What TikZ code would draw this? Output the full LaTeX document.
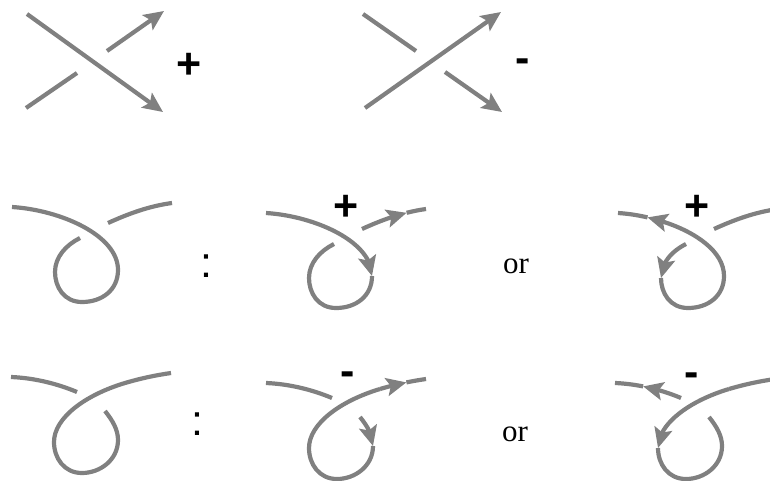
\documentclass[tikz,border=0pt]{standalone}
\usepackage{fontspec}
\setmainfont{Liberation Serif}
\newfontfamily\sansf{Liberation Sans}
\usetikzlibrary{arrows.meta,bending}
\definecolor{knotgray}{RGB}{128,128,128}
\begin{document}
\begin{tikzpicture}[x=1pt,y=-1pt,
  strand/.style={draw=knotgray, line width=4.2pt},
  arr/.style={-{Stealth[length=20pt,width=18pt,inset=4pt]}},
  sign/.style={font={\sansf\bfseries\fontsize{43pt}{43pt}\selectfont}, inner sep=0pt, anchor=base},
  punct/.style={font={\sansf\fontsize{43pt}{43pt}\selectfont}, inner sep=0pt, anchor=base},
  word/.style={font={\fontsize{31pt}{31pt}\selectfont}, inner sep=0pt, anchor=base}]
\useasboundingbox (0,0) rectangle (770,481);
\clip (0,0) rectangle (770,481);

% ---------- top row: crossings ----------
\coordinate (a1) at (27,14);  \coordinate (a2) at (163,112);
\coordinate (b1) at (26,108); \coordinate (b2) at (77,73);
\coordinate (b3) at (107,51); \coordinate (b4) at (164,11);
\draw[strand,arr] (a1) -- (a2);
\draw[strand] (b1) -- (b2);
\draw[strand,arr] (b3) -- (b4);
\node[sign] (plusA) at (189,79) {+};

\coordinate (c1) at (363,14);  \coordinate (c2) at (416,51);
\coordinate (c3) at (445,72);  \coordinate (c4) at (502,112);
\coordinate (d1) at (365,108); \coordinate (d2) at (501,12);
\draw[strand] (c1) -- (c2);
\draw[strand,arr] (c3) -- (c4);
\draw[strand,arr] (d1) -- (d2);
\node[sign] (minusA) at (523,73) {-};

% ---------- second row ----------
% left, unoriented
\coordinate (L0) at (12,207);  \coordinate (L1) at (118,270);
\coordinate (L2) at (82,302);  \coordinate (L3) at (55,272);
\coordinate (L4) at (80,238);  \coordinate (L5) at (108,223);
\coordinate (L6) at (172,203);
\draw[strand] (L0) .. controls (60,210) and (118,235) .. (L1)
  .. controls (118,290) and (102,302) .. (L2)
  .. controls (64,302) and (55,287) .. (L3)
  .. controls (55,257) and (66,245) .. (L4);
\draw[strand] (L5) .. controls (130,213) and (150,206) .. (L6);
\node[punct] (colonB) at (206,277) {:};

% middle, oriented one way
\begin{scope}[shift={(254,6)}]
\coordinate (M0) at (12,207);  \coordinate (M1) at (118,270);
\coordinate (M2) at (82,302);  \coordinate (M3) at (55,272);
\coordinate (M4) at (80,238);  \coordinate (M5) at (108,223);
\coordinate (M6) at (172,203); \coordinate (M7) at (152.6,206.8);
\draw[strand,arr] (M0) .. controls (60,210) and (118,235) .. (M1);
\draw[strand] (M1) .. controls (118,290) and (102,302) .. (M2)
  .. controls (64,302) and (55,287) .. (M3)
  .. controls (55,257) and (66,245) .. (M4);
\draw[strand,arr] (M5) .. controls (123.4,216) and (137.8,210.5) .. (M7);
\draw[strand] (M7) .. controls (159,205.2) and (165.4,203.9) .. (M6);
\end{scope}
\node[sign] (plusB) at (346,220) {+};
\node[word] (orB) at (516,273) {or};

% right, oriented the other way
\begin{scope}[shift={(606,6)}]
\coordinate (R0) at (12,207);  \coordinate (R1) at (118,270);
\coordinate (R2) at (82,302);  \coordinate (R3) at (55,272);
\coordinate (R4) at (80,238);  \coordinate (R5) at (108,223);
\coordinate (R6) at (172,203); \coordinate (R7) at (41.5,211.4);
\draw[strand] (R6) .. controls (150,206) and (130,213) .. (R5);
\draw[strand,arr] (R4) .. controls (66,245) and (55,257) .. (R3);
\draw[strand] (R3) .. controls (55,287) and (64,302) .. (R2)
  .. controls (102,302) and (118,290) .. (R1);
\draw[strand,arr] (R1) .. controls (118,242) and (80.9,220.4) .. (R7);
\draw[strand] (R7) .. controls (31.6,209.1) and (21.6,207.6) .. (R0);
\end{scope}
\node[sign] (plusC) at (697,220) {+};

% ---------- third row ----------
% left, unoriented
\coordinate (S0) at (11,377);  \coordinate (S1) at (77,392);
\coordinate (T0) at (105,411); \coordinate (T1) at (118,440);
\coordinate (T2) at (82,473);  \coordinate (T3) at (54,442);
\coordinate (T4) at (125,383); \coordinate (T5) at (171,373);
\draw[strand] (S0) .. controls (35,378) and (58,384) .. (S1);
\draw[strand] (T0) .. controls (113,421) and (118,430) .. (T1)
  .. controls (118,460) and (100,473) .. (T2)
  .. controls (64,473) and (54,458) .. (T3)
  .. controls (54,418) and (85,395) .. (T4)
  .. controls (142,378) and (157,375) .. (T5);
\node[punct] (colonC) at (197,435) {:};

% middle
\begin{scope}[shift={(255,6)}]
\coordinate (NS0) at (11,377);  \coordinate (NS1) at (77,392);
\coordinate (NT0) at (105,411); \coordinate (NT1) at (118,440);
\coordinate (NT2) at (82,473);  \coordinate (NT3) at (54,442);
\coordinate (NT4) at (125,383); \coordinate (NT5) at (171,373);
\coordinate (NT6) at (151.4,376.4);
\draw[strand] (NS0) .. controls (35,378) and (58,384) .. (NS1);
\draw[strand,arr] (NT0) .. controls (113,421) and (118,430) .. (NT1);
\draw[strand] (NT1) .. controls (118,460) and (100,473) .. (NT2)
  .. controls (64,473) and (54,458) .. (NT3)
  .. controls (54,418) and (85,395) .. (NT4);
\draw[strand,arr] (NT4) .. controls (134.35,380.25) and (143.1,378.1) .. (NT6);
\draw[strand] (NT6) .. controls (158.2,375) and (164.7,373.9) .. (NT5);
\end{scope}
\node[sign] (minusB) at (347.5,385) {-};
\node[word] (orC) at (515,441) {or};

% right
\begin{scope}[shift={(604,6)}]
\coordinate (PS0) at (11,377);  \coordinate (PS1) at (77,392);
\coordinate (PS2) at (39.1,380.4);
\coordinate (PT0) at (105,411); \coordinate (PT1) at (118,440);
\coordinate (PT2) at (82,473);  \coordinate (PT3) at (54,442);
\coordinate (PT4) at (125,383); \coordinate (PT5) at (171,373);
\draw[strand] (PT5) .. controls (157,375) and (142,378) .. (PT4);
\draw[strand,arr] (PT4) .. controls (85,395) and (54,418) .. (PT3);
\draw[strand] (PT3) .. controls (54,458) and (64,473) .. (PT2)
  .. controls (100,473) and (118,460) .. (PT1)
  .. controls (118,430) and (113,421) .. (PT0);
\draw[strand,arr] (PS1) .. controls (65.6,387.2) and (52.76,383.12) .. (PS2);
\draw[strand] (PS2) .. controls (30.04,378.6) and (20.6,377.4) .. (PS0);
\end{scope}
\node[sign] (minusC) at (691.5,386) {-};
\end{tikzpicture}
\end{document}
